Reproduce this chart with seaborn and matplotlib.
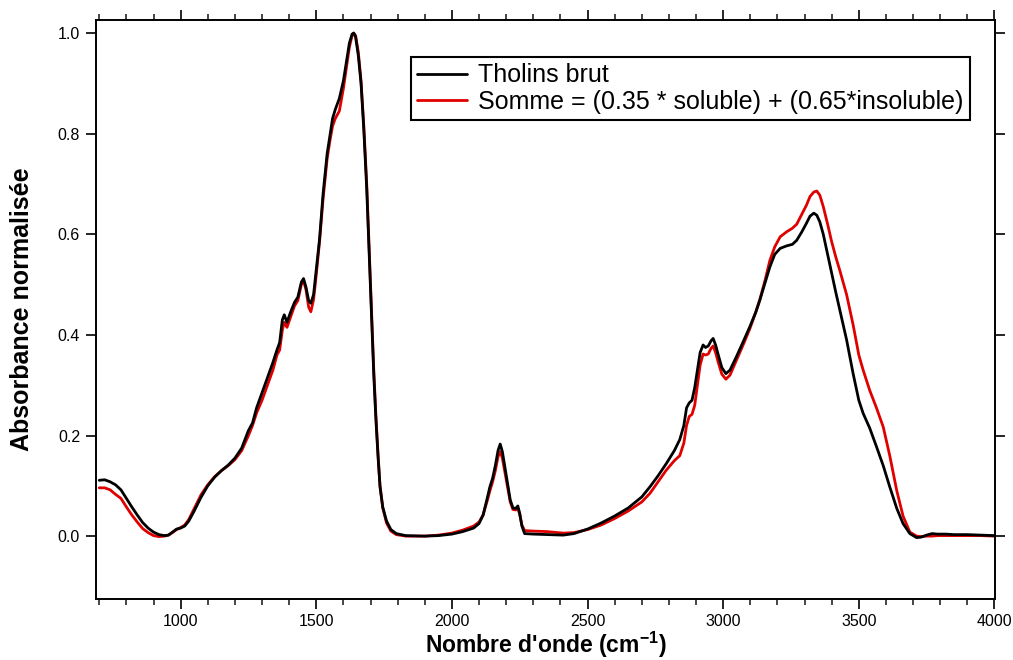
import numpy as np
import pandas as pd
import matplotlib
matplotlib.use("Agg")
import matplotlib.pyplot as plt
from matplotlib.ticker import MultipleLocator, FormatStrFormatter
import seaborn as sns

# Wavenumbers (cm-1)
wavenumber = [
    700, 720, 740, 760, 780, 800, 820, 840, 860, 880, 900, 920, 940, 955, 970,
    985, 1000, 1015, 1030, 1050, 1075, 1100, 1125, 1150, 1175, 1200, 1225,
    1250, 1265, 1280, 1300, 1320, 1340, 1355, 1365, 1375, 1382, 1392, 1405,
    1420, 1432, 1445, 1453, 1462, 1472, 1480, 1490, 1500, 1512, 1525, 1540,
    1550, 1560, 1570, 1585, 1600, 1612, 1622, 1632, 1638, 1645, 1655, 1665,
    1675, 1686, 1695, 1704, 1712, 1720, 1728, 1735, 1745, 1759, 1775, 1795,
    1830, 1900, 1950, 2000, 2040, 2080, 2100, 2115, 2130, 2140, 2150, 2160,
    2170, 2178, 2186, 2195, 2205, 2215, 2225, 2235, 2243, 2250, 2258, 2268,
    2300, 2350, 2410, 2450, 2500, 2550, 2600, 2650, 2700, 2730, 2760, 2790,
    2820, 2840, 2855, 2865, 2875, 2885, 2895, 2905, 2915, 2926, 2935, 2945,
    2955, 2963, 2972, 2982, 2995, 3010, 3025, 3049, 3075, 3098, 3120, 3135,
    3155, 3172, 3190, 3210, 3234, 3255, 3271, 3290, 3307, 3320, 3334, 3345,
    3356, 3369, 3385, 3400, 3415, 3430, 3455, 3479, 3500, 3516, 3540, 3565,
    3590, 3614, 3640, 3663, 3688, 3713, 3730, 3750, 3770, 3790, 3820, 3850,
    3900, 3950, 4000,
]

# Raw tholins spectrum (normalised absorbance)
tholins_brut = [
    0.111, 0.112, 0.108, 0.102, 0.092, 0.075, 0.058, 0.042, 0.027, 0.016,
    0.008, 0.003, 0.001, 0.002, 0.008, 0.014, 0.016, 0.020, 0.030, 0.050,
    0.077, 0.100, 0.117, 0.130, 0.141, 0.155, 0.175, 0.210, 0.225, 0.255,
    0.285, 0.315, 0.345, 0.370, 0.385, 0.430, 0.440, 0.425, 0.445, 0.465,
    0.475, 0.505, 0.512, 0.495, 0.468, 0.463, 0.480, 0.530, 0.590, 0.680,
    0.760, 0.795, 0.830, 0.848, 0.870, 0.905, 0.946, 0.980, 0.998, 1.000,
    0.992, 0.955, 0.900, 0.810, 0.690, 0.560, 0.430, 0.320, 0.230, 0.155,
    0.098, 0.058, 0.030, 0.013, 0.005, 0.001, 0.000, 0.001, 0.004, 0.009,
    0.016, 0.025, 0.042, 0.075, 0.098, 0.115, 0.140, 0.170, 0.183, 0.168,
    0.138, 0.105, 0.072, 0.056, 0.055, 0.060, 0.045, 0.020, 0.005, 0.004,
    0.003, 0.002, 0.005, 0.014, 0.026, 0.040, 0.056, 0.078, 0.098, 0.120,
    0.144, 0.170, 0.192, 0.220, 0.255, 0.265, 0.270, 0.295, 0.330, 0.365,
    0.380, 0.375, 0.378, 0.388, 0.393, 0.380, 0.360, 0.335, 0.323, 0.330,
    0.357, 0.388, 0.416, 0.445, 0.469, 0.505, 0.535, 0.560, 0.572, 0.577,
    0.580, 0.588, 0.605, 0.622, 0.636, 0.642, 0.638, 0.625, 0.600, 0.560,
    0.522, 0.485, 0.449, 0.390, 0.323, 0.270, 0.244, 0.215, 0.178, 0.140,
    0.098, 0.055, 0.025, 0.005, -0.003, -0.002, 0.002, 0.005, 0.004, 0.004,
    0.003, 0.003, 0.002, 0.001,
]

# Weighted sum: 0.35 * soluble + 0.65 * insoluble
somme = [
    0.096, 0.096, 0.092, 0.083, 0.075, 0.058, 0.042, 0.028, 0.015, 0.007,
    0.001, -0.001, 0.000, 0.002, 0.007, 0.013, 0.017, 0.022, 0.033, 0.055,
    0.082, 0.102, 0.118, 0.130, 0.140, 0.152, 0.170, 0.200, 0.220, 0.245,
    0.270, 0.300, 0.330, 0.360, 0.370, 0.410, 0.425, 0.415, 0.435, 0.458,
    0.468, 0.500, 0.508, 0.490, 0.455, 0.446, 0.470, 0.520, 0.585, 0.670,
    0.750, 0.785, 0.815, 0.830, 0.845, 0.890, 0.935, 0.972, 0.995, 1.000,
    0.995, 0.962, 0.905, 0.818, 0.700, 0.570, 0.440, 0.330, 0.238, 0.160,
    0.100, 0.056, 0.026, 0.010, 0.003, 0.000, 0.000, 0.002, 0.006, 0.012,
    0.020, 0.028, 0.042, 0.070, 0.090, 0.108, 0.130, 0.158, 0.168, 0.155,
    0.128, 0.098, 0.068, 0.053, 0.052, 0.056, 0.043, 0.022, 0.011, 0.010,
    0.009, 0.006, 0.007, 0.013, 0.022, 0.035, 0.050, 0.068, 0.085, 0.108,
    0.131, 0.150, 0.160, 0.185, 0.220, 0.238, 0.242, 0.260, 0.300, 0.340,
    0.362, 0.360, 0.362, 0.373, 0.378, 0.365, 0.345, 0.322, 0.312, 0.320,
    0.350, 0.382, 0.412, 0.445, 0.470, 0.510, 0.548, 0.575, 0.595, 0.605,
    0.612, 0.620, 0.640, 0.658, 0.675, 0.684, 0.686, 0.678, 0.655, 0.620,
    0.585, 0.555, 0.528, 0.480, 0.420, 0.360, 0.330, 0.290, 0.255, 0.217,
    0.160, 0.090, 0.040, 0.008, 0.000, -0.001, 0.000, 0.000, 0.001, 0.001,
    0.001, 0.001, 0.001, 0.000,
]

series_labels = ["Tholins brut", "Somme = (0.35 * soluble) + (0.65*insoluble)"]
series_colors = ["#000000", "#e00000"]

sns.set_style("ticks")
plt.rcParams["font.family"] = ["Liberation Sans", "DejaVu Sans"]
plt.rcParams["mathtext.fontset"] = "custom"
plt.rcParams["mathtext.rm"] = "Liberation Sans"
plt.rcParams["mathtext.bf"] = "Liberation Sans:bold"
plt.rcParams["text.color"] = "black"
plt.rcParams["axes.labelcolor"] = "black"

df = pd.concat([
    pd.DataFrame({"wn": wavenumber, "abs": tholins_brut, "serie": series_labels[0]}),
    pd.DataFrame({"wn": wavenumber, "abs": somme, "serie": series_labels[1]}),
], ignore_index=True)

fig = plt.figure(figsize=(10.13, 6.60), dpi=100)
ax = fig.add_axes([96 / 1013, 1 - 599 / 660, 899 / 1013, 579 / 660])

# draw the red sum first so the black spectrum sits on top
sns.lineplot(data=df, x="wn", y="abs", hue="serie",
             hue_order=[series_labels[1], series_labels[0]],
             palette={series_labels[0]: series_colors[0],
                      series_labels[1]: series_colors[1]},
             estimator=None, sort=False, linewidth=2.0, ax=ax)

ax.set_xlim(688, 4002)
ax.set_ylim(-0.125, 1.026)

ax.xaxis.set_major_locator(MultipleLocator(500))
ax.xaxis.set_minor_locator(MultipleLocator(100))
ax.yaxis.set_major_locator(MultipleLocator(0.2))
ax.yaxis.set_major_formatter(FormatStrFormatter("%.1f"))
ax.set_xticks([1000, 1500, 2000, 2500, 3000, 3500, 4000])

ax.tick_params(axis="both", which="major", direction="out", length=7.5, width=1.2,
               labelsize=11.5, color="black", labelcolor="black",
               top=True, right=True, labeltop=False, labelright=False)
ax.tick_params(axis="x", which="minor", direction="out", length=4, width=1.2,
               top=True, bottom=True)
ax.tick_params(axis="x", which="major", pad=3.5)
ax.tick_params(axis="y", which="major", pad=4)

for side in ["left", "right", "top", "bottom"]:
    ax.spines[side].set_visible(True)
    ax.spines[side].set_linewidth(1.4)
    ax.spines[side].set_color("black")

ax.set_xlabel(r"Nombre d'onde (cm$^{\mathbf{-1}}$)", fontsize=16.5,
              fontweight="bold", color="black")
ax.set_ylabel("Absorbance normalisée", fontsize=18, fontweight="bold",
              color="black")
ax.xaxis.label.set_verticalalignment("top")

# axis titles placed in axes coordinates
ax.yaxis.set_label_coords(-(96 - 34) / 899, 0.5)
ax.xaxis.set_label_coords(0.5, -(630 - 599) / 579)

handles, labels = ax.get_legend_handles_labels()
order = [labels.index(series_labels[0]), labels.index(series_labels[1])]
leg = ax.legend([handles[i] for i in order], [labels[i] for i in order],
                loc="upper right", bbox_to_anchor=(0.972, 0.936),
                borderaxespad=0, fontsize=18, frameon=True, fancybox=False,
                handlelength=2.0, handletextpad=0.45, labelspacing=0.1,
                borderpad=0.25, edgecolor="black", framealpha=1,
                labelcolor="black")
leg.get_frame().set_linewidth(1.5)
for line in leg.get_lines():
    line.set_linewidth(2.0)

fig.savefig("out.png", dpi=100)
